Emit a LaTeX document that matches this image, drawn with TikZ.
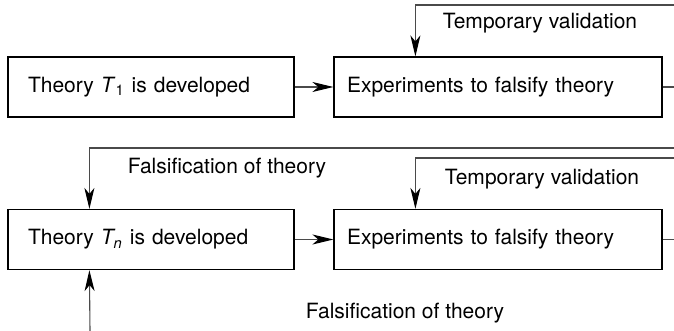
\documentclass[tikz,border=0pt]{standalone}
\usepackage{fontspec}
\setmainfont{TeX Gyre Heros}
\usepackage{tikz}
\usetikzlibrary{arrows.meta, positioning, calc}
\usepackage{xcolor}
\definecolor{wiregray}{HTML}{4A4A4A}

\begin{document}
\begin{tikzpicture}[x=0.5pt, y=-0.5pt,
    every node/.style={font=\fontsize{10.5}{12.6}\selectfont},
    theorybox/.style={draw=black, line width=0.6pt, minimum width=143pt, minimum height=30pt, inner xsep=10pt, text width=123pt, align=left},
    testbox/.style={draw=black, line width=0.6pt, minimum width=164pt, minimum height=30pt, inner xsep=6.5pt, text width=151pt, align=left},
    wire/.style={draw=wiregray, line width=0.55pt},
    link/.style={wire, -{Stealth[length=10.5pt, width=5pt, inset=3pt, color=black]}}]
                \useasboundingbox (0,0) rectangle (674,331);
                % first round
                \node[theorybox] (t1) at (151,87) {Theory \textit{T}\textsubscript{1} is developed};
                \node[testbox] (e1) at (498,87) {Experiments to falsify theory};
                \coordinate (out1) at (674,87);
                \coordinate (in1) at (674,5);
                \draw[link] (t1) -- (e1);
                \draw[wire] (e1) -- (out1);
                \draw[link] (in1) -| ([xshift=41pt]e1.north west);
                \node (val1) at (540,23) {Temporary validation};
                % n-th round
                \node[theorybox] (t2) at (151,239.5) {Theory \textit{T\textsubscript{n}} is developed};
                \node[testbox] (e2) at (498,239.5) {Experiments to falsify theory};
                \coordinate (back) at (674,148);
                \coordinate (in2) at (674,158);
                \coordinate (out2) at (674,239.5);
                \coordinate (up) at (90,331);
                \draw[link] (back) -| ([xshift=41pt]t2.north west);
                \node (fal1) at (227,168) {Falsification of theory};
                \draw[link] (in2) -| ([xshift=41pt]e2.north west);
                \node (val2) at (542,179) {Temporary validation};
                \draw[link] (t2) -- (e2);
                \draw[wire] (e2) -- (out2);
                \draw[link] (up) -- ([xshift=41pt]t2.south west);
                \node (fal2) at (405,313) {Falsification of theory};
            \end{tikzpicture}
\end{document}
